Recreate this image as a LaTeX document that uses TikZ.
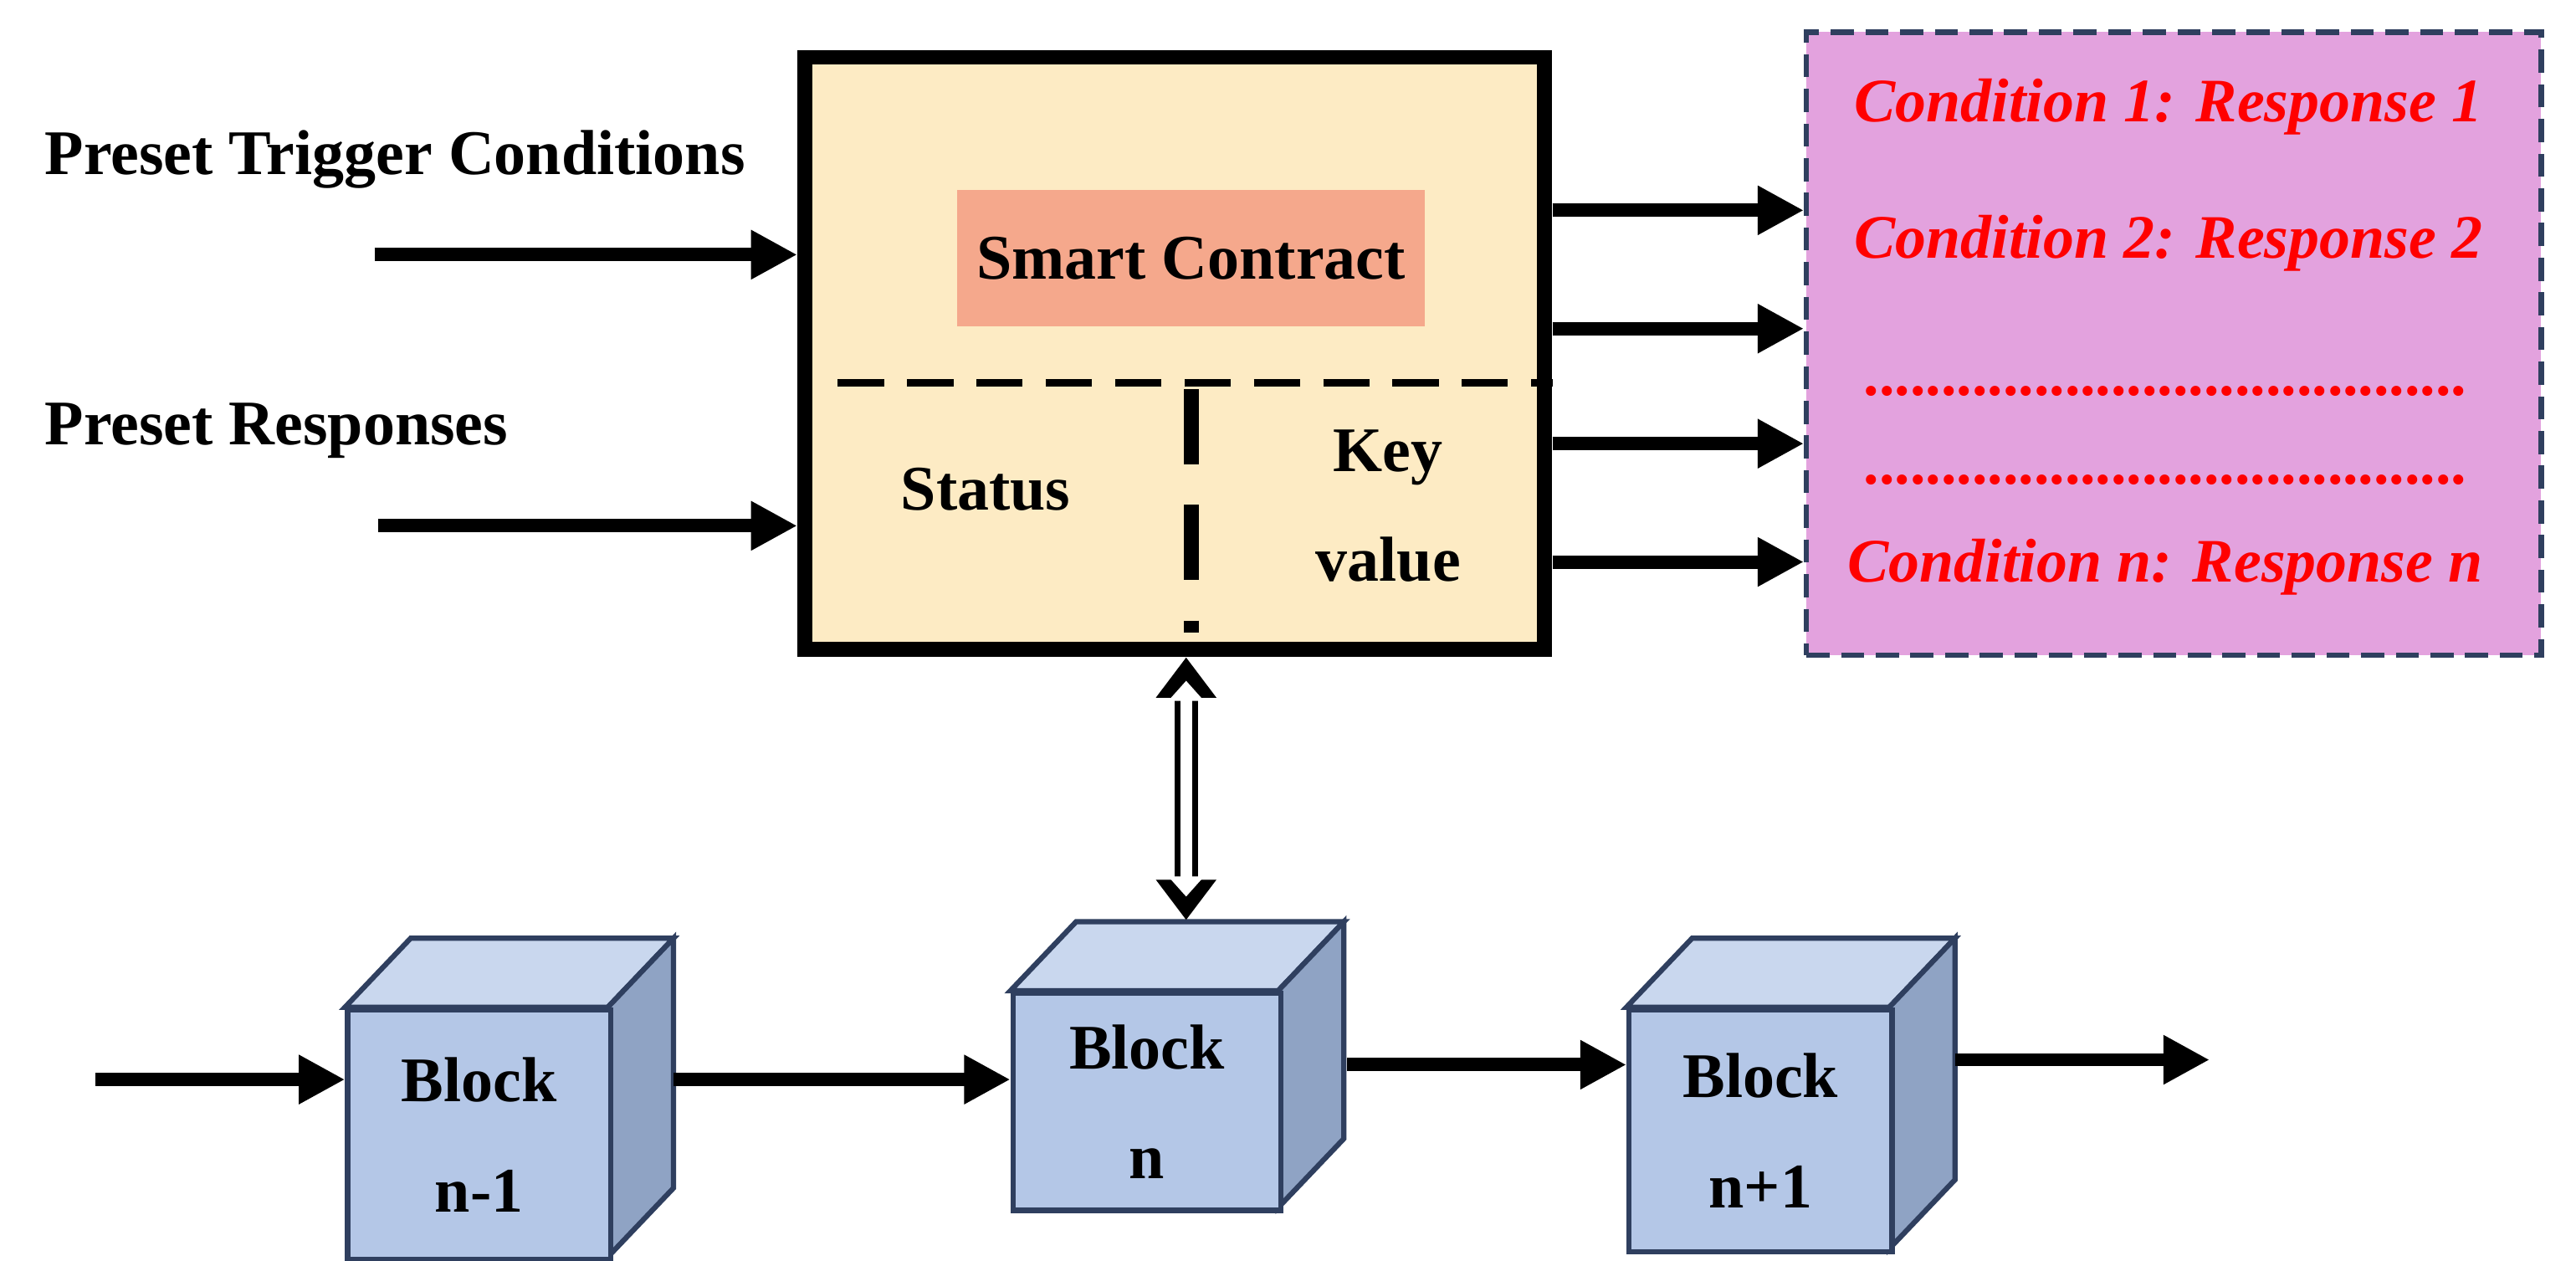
\documentclass[tikz,border=0pt]{standalone}
\usepackage{fontspec}
\setmainfont{Liberation Serif}
\usetikzlibrary{arrows.meta}
\definecolor{boxy}{HTML}{FDEBC4}
\definecolor{sal}{HTML}{F5A88C}
\definecolor{pinkb}{HTML}{E3A2DE}
\definecolor{cubef}{HTML}{B4C7E7}
\definecolor{cubet}{HTML}{C9D7EE}
\definecolor{cubes}{HTML}{8FA3C4}
\definecolor{cubel}{HTML}{2F3F5F}
\begin{document}
\begin{tikzpicture}[x=0.01cm,y=-0.01cm,
  arr/.style={line width=2.3pt,-{Triangle[length=8pt,width=8pt]}},
  lab/.style={font=\fontsize{11}{13}\selectfont\bfseries},
  red/.style={font=\fontsize{10.7}{13}\selectfont\bfseries\itshape,text=red}]
\useasboundingbox (0,0) rectangle (1568,767);
\fill[white] (0,0) rectangle (1568,767);
% main box
\node[draw,line width=2.6pt,fill=boxy,minimum width=4.5cm,minimum height=3.6cm,inner sep=0] (main) at (715,215) {};
\node[fill=sal,minimum width=2.8cm,minimum height=0.83cm,lab] (sc) at (725,157) {Smart Contract};
\draw[line width=1.3pt,dash pattern=on 8pt off 4pt] (510,233) -- (945,233);
\draw[line width=2.6pt,dash pattern=on 13pt off 7pt] (725,237) -- (725,385);
\node[lab] (st) at (600,298) {Status};
\node[lab,align=center] (kv) at (845,308) {Key\\[6pt]value};
% left
\node[lab,anchor=west] (ptc) at (15,97) {Preset Trigger Conditions};
\node[lab,anchor=west] (pr) at (15,262) {Preset Responses};
\coordinate (l1) at (228,155); \coordinate (l2) at (230,320);
\draw[arr] (l1) -- (main.west |- l1);
\draw[arr] (l2) -- (main.west |- l2);
% pink box
\node[draw=cubel,line width=0.9pt,dash pattern=on 4pt off 2pt,fill=pinkb,minimum width=4.47cm,minimum height=3.79cm,anchor=north west,inner sep=0] (pk) at (1098,18) {};
\node[red] (c1) at (1320,65) {Condition 1: Response 1};
\node[red] (c2) at (1320,148) {Condition 2: Response 2};
\node[red] (d1) at (1318,238) {\textup{.......................................}};
\node[red] (d2) at (1318,292) {\textup{.......................................}};
\node[red] (cn) at (1318,345) {Condition n: Response n};
\foreach \yy in {128,200,270,342}{
  \coordinate (s\yy) at (945,\yy);
  \draw[arr] (s\yy) -- (pk.west |- s\yy);}
% cubes
\newcommand{\mycube}[5]{% name, x1,y1,x2,y2 front
  \fill[cubet,draw=cubel,line width=0.9pt] (#2,#3) -- (#2+40,#3-42) -- (#4+40,#3-42) -- (#4,#3) -- cycle;
  \fill[cubes,draw=cubel,line width=0.9pt] (#4,#3) -- (#4+40,#3-42) -- (#4+40,#5-42) -- (#4,#5) -- cycle;
  \node[draw=cubel,line width=0.9pt,fill=cubef,anchor=north west,minimum width={(#4-#2)*0.284528pt},minimum height={(#5-#3)*0.284528pt},inner sep=0] (#1) at (#2,#3) {};}
\mycube{b1}{210}{613}{370}{765}
\mycube{b2}{615}{603}{778}{735}
\mycube{b3}{990}{613}{1150}{760}
\node[lab,align=center] at (b1) {Block\\[6pt]n-1};
\node[lab,align=center] at (b2) {Block\\[6pt]n};
\node[lab,align=center] at (b3) {Block\\[6pt]n+1};
\coordinate (a0) at (58,657); \coordinate (a4) at (1345,645);
\draw[arr] (a0) -- (b1.west |- a0);
\draw[arr] (410,657) -- (b2.west |- 0,657);
\draw[arr] (820,648) -- (b3.west |- 0,648);
\draw[arr] (1190,645) -- (a4);
% double arrow
\draw[line width=4pt,{Triangle[length=7pt,width=10pt]}-{Triangle[length=7pt,width=10pt]}] (722,400) -- (722,560);
\draw[white,line width=2pt,shorten <=3.5pt,shorten >=3.5pt,{Triangle[length=3.5pt,width=6pt]}-{Triangle[length=3.5pt,width=6pt]}] (722,402) -- (722,558);
\end{tikzpicture}
\end{document}
